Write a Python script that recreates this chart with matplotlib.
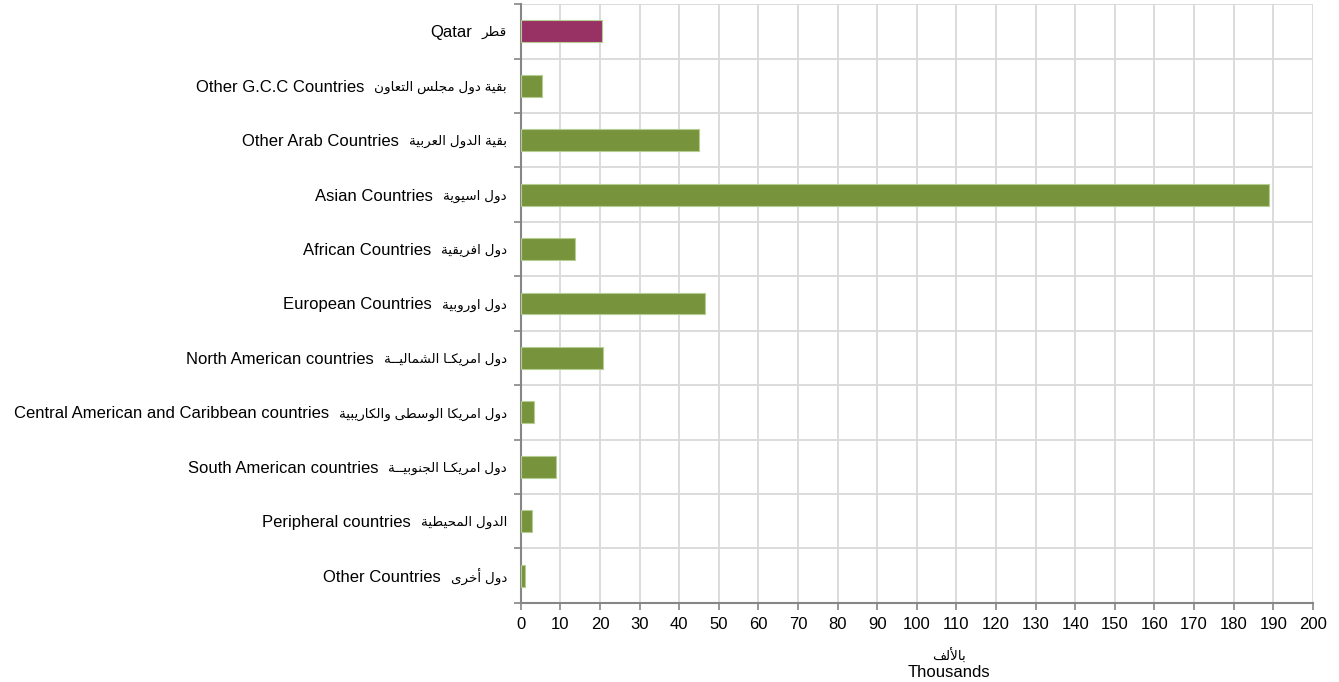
import numpy as np
import matplotlib
matplotlib.use('Agg')
import matplotlib.pyplot as plt

plt.rcParams['font.family'] = ['Liberation Sans', 'DejaVu Sans']

# data (thousands)
english = ['Qatar', 'Other G.C.C Countries', 'Other Arab Countries', 'Asian Countries',
           'African Countries', 'European Countries', 'North American countries',
           'Central American and Caribbean countries', 'South American countries',
           'Peripheral countries', 'Other Countries']
arabic = ['قطر', 'بقية دول مجلس التعاون', 'بقية الدول العربية', 'دول اسيوية',
          'دول افريقية', 'دول اوروبية', 'دول امريكـا الشماليــة',
          'دول امريكا الوسطى والكاريبية', 'دول امريكـا الجنوبيــة',
          'الدول المحيطية', 'دول أخرى']
values = [20.5, 5.4, 45.1, 189.0, 13.7, 46.6, 20.8, 3.3, 8.8, 2.7, 1.1]
bar_colors = ['#983264'] + ['#77933C'] * 10
xticks = list(range(0, 201, 10))
xlabel_ar = 'بالألف'
xlabel_en = 'Thousands'

# minimal arabic shaping: presentation forms + visual (reversed) order
FORMS = {'ا': (0xFE8D, 2), 'أ': (0xFE83, 2), 'ب': (0xFE8F, 4), 'ة': (0xFE93, 2),
         'ت': (0xFE95, 4), 'ج': (0xFE9D, 4), 'ح': (0xFEA1, 4), 'خ': (0xFEA5, 4),
         'د': (0xFEA9, 2), 'ر': (0xFEAD, 2), 'س': (0xFEB1, 4), 'ش': (0xFEB5, 4),
         'ط': (0xFEC1, 4), 'ع': (0xFEC9, 4), 'ف': (0xFED1, 4), 'ق': (0xFED5, 4),
         'ك': (0xFED9, 4), 'ل': (0xFEDD, 4), 'م': (0xFEE1, 4), 'ن': (0xFEE5, 4),
         'ه': (0xFEE9, 4), 'و': (0xFEED, 2), 'ى': (0xFEEF, 2), 'ي': (0xFEF1, 4)}
TATWEEL = 'ـ'


def is_ar(c):
    return c == TATWEEL or c in FORMS


def links_next(c):
    return c == TATWEEL or (c in FORMS and FORMS[c][1] == 4)


def shape(s):
    out = []
    i = 0
    n = len(s)
    while i < n:
        c = s[i]
        prev = s[i - 1] if i > 0 else ' '
        con_prev = links_next(prev) and is_ar(c)
        if c == 'ل' and i + 1 < n and s[i + 1] in 'اأ':
            lig = 0xFEFB if s[i + 1] == 'ا' else 0xFEF7
            out.append(chr(lig + (1 if con_prev else 0)))
            i += 2
            continue
        if c not in FORMS:
            out.append(c)
            i += 1
            continue
        base, k = FORMS[c]
        nxt = s[i + 1] if i + 1 < n else ' '
        con_next = k == 4 and is_ar(nxt)
        if con_prev and con_next:
            f = 3
        elif con_prev:
            f = 1
        elif con_next:
            f = 2
        else:
            f = 0
        out.append(chr(base + f))
        i += 1
    return ''.join(reversed(out))


AR_SIZE = 9.7
EN_SIZE = 12

fig = plt.figure(figsize=(13.39, 6.82), dpi=100)
ax = fig.add_axes([0.389, 0.116, 0.5915, 0.878])

pos = np.arange(len(values))
ax.barh(pos, values, height=0.4, color=bar_colors, edgecolor='#B5CC92', linewidth=0.8, zorder=3)

ax.set_ylim(len(values) - 0.5, -0.5)
ax.set_xlim(0, 200)
ax.set_xticks(xticks)
ax.set_xticklabels([str(t) for t in xticks], fontsize=12)
ax.set_yticks(pos)
ax.set_yticklabels([shape(a) for a in arabic], fontsize=AR_SIZE)
bounds = np.arange(len(values) + 1) - 0.5
ax.set_yticks(bounds, minor=True)

ax.tick_params(axis='y', which='major', length=0, pad=10)
ax.tick_params(axis='y', which='minor', length=5, color='#868686', width=1.2)
ax.tick_params(axis='x', which='major', length=5, color='#868686', width=1.2, pad=5)

ax.grid(axis='x', which='major', color='#D9D9D9', linewidth=1.3, zorder=0)
ax.grid(axis='y', which='minor', color='#D9D9D9', linewidth=1.3, zorder=0)
ax.set_axisbelow(True)
# no gridline on the top edge
ygrid = ax.yaxis.get_gridlines()
if len(ygrid) > 0:
    ygrid[0].set_visible(False)

for side in ['top', 'right']:
    ax.spines[side].set_visible(False)
for side in ['left', 'bottom']:
    ax.spines[side].set_color('#868686')
    ax.spines[side].set_linewidth(1.5)

# english part of each label sits left of the arabic tick label
fig.canvas.draw()
renderer = fig.canvas.get_renderer()
for lab, en, p in zip(ax.get_yticklabels(), english, pos):
    bb = lab.get_window_extent(renderer)
    x_fig = (bb.x0 - 10) / fig.bbox.width
    y_disp = ax.transData.transform((0, p))[1]
    fig.text(x_fig, y_disp / fig.bbox.height, en, fontsize=EN_SIZE, ha='right',
             va='center_baseline')

ax.text(0.54, -0.089, shape(xlabel_ar), transform=ax.transAxes, fontsize=AR_SIZE,
        ha='center', va='center')
ax.text(0.54, -0.117, xlabel_en, transform=ax.transAxes, fontsize=EN_SIZE,
        ha='center', va='center')

fig.savefig('out.png', dpi=100, facecolor='white')
